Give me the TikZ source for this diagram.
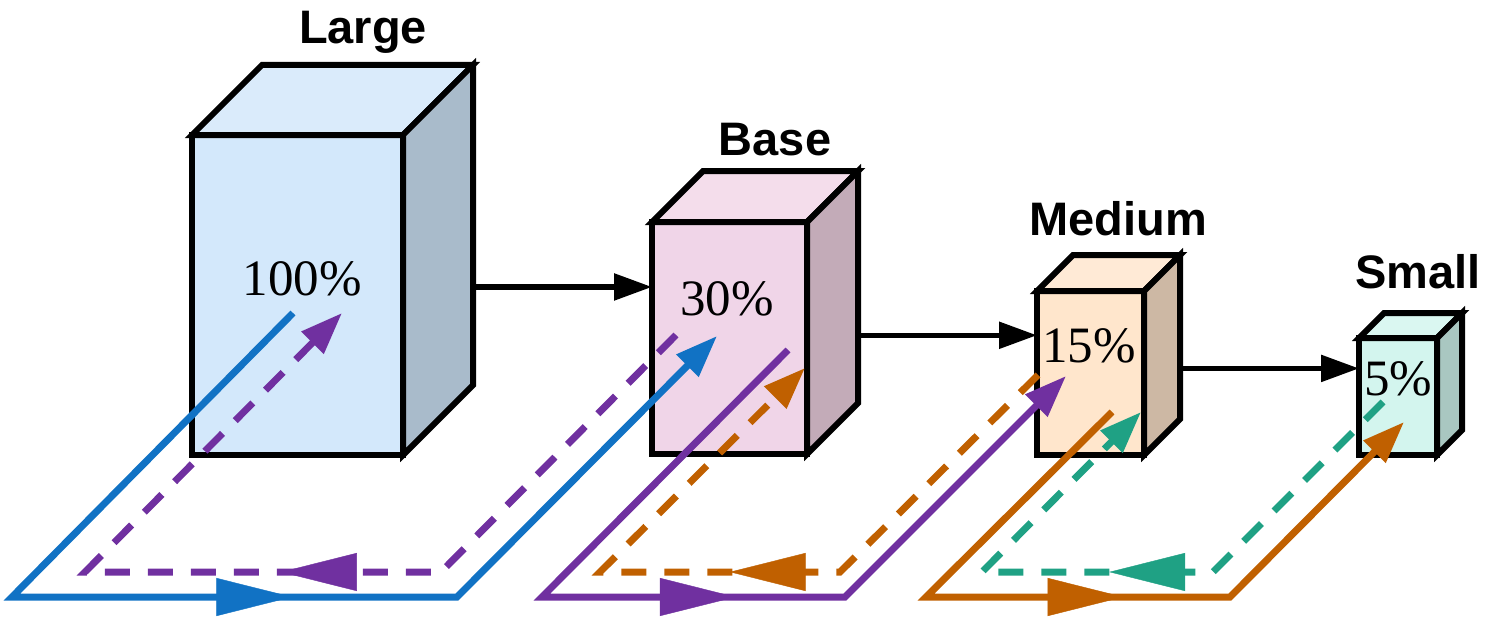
\documentclass[tikz,border=0pt]{standalone}
\usepackage{fontspec}
\setmainfont{Liberation Serif}
\setsansfont{Liberation Sans}
\usepackage{tikz}
\usetikzlibrary{arrows.meta,calc,decorations.markings}
\definecolor{largefront}{HTML}{D3E8FB}
\definecolor{largetop}{HTML}{DAEBFB}
\definecolor{largeside}{HTML}{A9BBCB}
\definecolor{basefront}{HTML}{F0D5E8}
\definecolor{basetop}{HTML}{F4DDEB}
\definecolor{baseside}{HTML}{C3ABB8}
\definecolor{mediumfront}{HTML}{FFE6CC}
\definecolor{mediumtop}{HTML}{FFEAD6}
\definecolor{mediumside}{HTML}{CDB8A4}
\definecolor{smallfront}{HTML}{D3F5EE}
\definecolor{smalltop}{HTML}{DAF7F1}
\definecolor{smallside}{HTML}{A9C7C1}
\definecolor{lineblue}{HTML}{1172C4}
\definecolor{linepurple}{HTML}{7030A0}
\definecolor{lineorange}{HTML}{C06000}
\definecolor{lineteal}{HTML}{1FA184}
% name, x, y, width, height, depth
\newcommand{\drawbox}[6]{
\node[face, fill=#1front, minimum width=#4pt, minimum height=#5pt] (#1) at (#2,#3) {};
\draw[edge, fill=#1top] (#1.north west) -- ++(#6,-#6) -- ++(#4,0) coordinate (#1-back) -- (#1.north east) -- cycle;
\draw[edge, fill=#1side] (#1.north east) -- (#1-back) -- ++(0,#5) -- (#1.south east) -- cycle;
}

\begin{document}
\begin{tikzpicture}[x=1pt,y=-1pt,
face/.style={draw=black, line width=6pt, inner sep=0pt, outer sep=0pt, anchor=north west},
edge/.style={draw=black, line width=6pt},
title/.style={font=\sffamily\bfseries\fontsize{47}{52}\selectfont, anchor=base, inner sep=0pt},
share/.style={font=\fontsize{51}{56}\selectfont, anchor=base, inner sep=0pt},
flow/.style={line width=5.5pt, -{Triangle[length=38pt,width=26pt]}},
track/.style={line width=7pt, -{Triangle[length=42pt,width=30pt]}},
back/.style={track, dash pattern=on 25pt off 18pt},
midtip/.style={postaction={decorate}, decoration={markings, mark=at position #1 with {\arrow{Triangle[length=76pt,width=38pt]}}}}]
\useasboundingbox (0,0) rectangle (1496,618);

\drawbox{large}{192}{135}{211}{320}{70}
\drawbox{base}{652}{222}{155}{232}{51}
\drawbox{medium}{1037}{291}{107}{164}{36}
\drawbox{small}{1359}{338}{78}{117}{25}

\coordinate (base-in) at ($(base.north west)!0.28!(base.south west)$);
\coordinate (medium-in) at ($(medium.north west)!0.27!(medium.south west)$);
\coordinate (small-in) at ($(small.north west)!0.26!(small.south west)$);
\draw[flow] (large-back |- base-in) -- (base-in);
\draw[flow] (base-back |- medium-in) -- (medium-in);
\draw[flow] (medium-back |- small-in) -- (small-in);

\coordinate (blue-a) at (293,313); \coordinate (blue-b) at (12,597);
\coordinate (blue-c) at (457,597); \coordinate (blue-d) at (717,336);
\coordinate (pdash-a) at (676,335); \coordinate (pdash-b) at (441,572);
\coordinate (pdash-c) at (85,572); \coordinate (pdash-d) at (342,313);
\coordinate (purple-a) at (788,350); \coordinate (purple-b) at (542,597);
\coordinate (purple-c) at (845,597); \coordinate (purple-d) at (1066,376);
\coordinate (odash-a) at (1038,375); \coordinate (odash-b) at (840,572);
\coordinate (odash-c) at (600,572); \coordinate (odash-d) at (805,368);
\coordinate (orange-a) at (1112,412); \coordinate (orange-b) at (926,597);
\coordinate (orange-c) at (1230,597); \coordinate (orange-d) at (1404,422);
\coordinate (teal-a) at (1383,402); \coordinate (teal-b) at (1213,572);
\coordinate (teal-c) at (982,572); \coordinate (teal-d) at (1141,412);

\draw[track, lineblue] (blue-a) -- (blue-b) -- (blue-c) -- (blue-d);
\path[lineblue, midtip=0.63] (blue-b) -- (blue-c);
\draw[back, linepurple] (pdash-a) -- (pdash-b) -- (pdash-c) -- (pdash-d);
\path[linepurple, midtip=0.45] (pdash-b) -- (pdash-c);
\draw[track, linepurple] (purple-a) -- (purple-b) -- (purple-c) -- (purple-d);
\path[linepurple, midtip=0.64] (purple-b) -- (purple-c);
\draw[back, lineorange] (odash-a) -- (odash-b) -- (odash-c) -- (odash-d);
\path[lineorange, midtip=0.46] (odash-b) -- (odash-c);
\draw[track, lineorange] (orange-a) -- (orange-b) -- (orange-c) -- (orange-d);
\path[lineorange, midtip=0.65] (orange-b) -- (orange-c);
\draw[back, lineteal] (teal-a) -- (teal-b) -- (teal-c) -- (teal-d);
\path[lineteal, midtip=0.45] (teal-b) -- (teal-c);

\node[share] (large-share) at (302,295) {100\%};
\node[share] (base-share) at (727,315) {30\%};
\node[share] (medium-share) at (1089,362) {15\%};
\node[share] (small-share) at (1398,395) {5\%};

\node[title] (large-title) at (363,44) {Large};
\node[title] (base-title) at (775,155) {Base};
\node[title] (medium-title) at (1118,235) {Medium};
\node[title] (small-title) at (1418,288) {Small};
\end{tikzpicture}
\end{document}
